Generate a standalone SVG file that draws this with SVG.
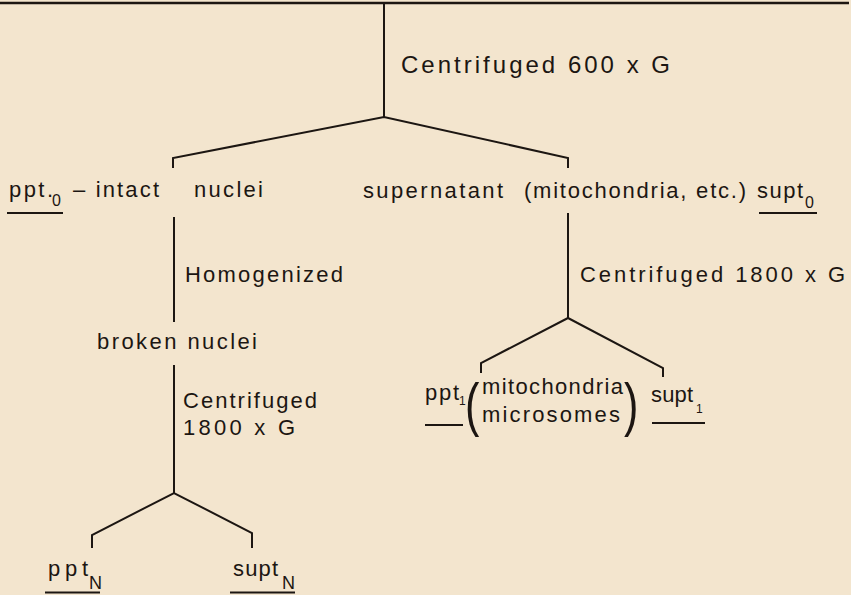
<svg xmlns="http://www.w3.org/2000/svg" width="851" height="595" viewBox="0 0 851 595">
<style>
.t{font-family:"Liberation Sans",Arial,sans-serif;font-size:22px;fill:#1c1612}
.big{font-size:24px}
.sub{font-family:"Liberation Sans",Arial,sans-serif;font-size:16px;fill:#1c1612}
.par{font-family:"Liberation Sans",Arial,sans-serif;font-size:36px;fill:#1c1612}
.ln{fill:none;stroke:#1c1612;stroke-width:2;stroke-linejoin:miter}
.ul{stroke:#1c1612;stroke-width:2}
</style>
<rect width="851" height="595" fill="#F3E5CE"/>
<g id="connectors">
<line x1="0" y1="3" x2="849" y2="3" stroke="#1c1612" stroke-width="2.6"/>
<path class="ln" d="M384 3V117"/>
<path class="ln" d="M173 168V158L384 117L568 158V168"/>
<path class="ln" d="M174 217V322"/>
<path class="ln" d="M174 365V493"/>
<path class="ln" d="M92 548V535L174 493L252 533V548"/>
<path class="ln" d="M568 213V318"/>
<path class="ln" d="M481 373V363L568 318L663 368V377"/>
</g>
<g id="label-c600"><text class="t big" x="401" y="73" textLength="269" lengthAdjust="spacing">Centrifuged  600 x G</text></g>
<g id="ppt0">
<text class="t" x="9" y="197" textLength="44" lengthAdjust="spacing">ppt.</text>
<text class="sub" x="52" y="206">0</text>
<line class="ul" x1="7" y1="213" x2="63" y2="213"/>
<text class="t" x="73" y="197" textLength="86" lengthAdjust="spacing">– intact</text>
<text class="t" x="194" y="197" textLength="69" lengthAdjust="spacing">nuclei</text>
</g>
<g id="supt0">
<text class="t" x="363" y="198" textLength="140" lengthAdjust="spacing">supernatant</text>
<text class="t" x="524" y="198" textLength="222" lengthAdjust="spacing">(mitochondria, etc.)</text>
<text class="t" x="757" y="198" textLength="46" lengthAdjust="spacing">supt</text>
<text class="sub" x="805" y="208">0</text>
<line class="ul" x1="759" y1="213" x2="817" y2="213"/>
</g>
<g id="label-homog"><text class="t" x="185" y="282" textLength="158" lengthAdjust="spacing">Homogenized</text></g>
<g id="label-c1800r"><text class="t" x="580" y="282" textLength="265" lengthAdjust="spacing">Centrifuged  1800 x G</text></g>
<g id="broken"><text class="t" x="97" y="349" textLength="160" lengthAdjust="spacing">broken  nuclei</text></g>
<g id="label-c1800l">
<text class="t" x="183" y="408" textLength="134" lengthAdjust="spacing">Centrifuged</text>
<text class="t" x="183" y="435" textLength="112" lengthAdjust="spacing">1800 x G</text>
</g>
<g id="pptN">
<text class="t" x="48" y="576" textLength="40" lengthAdjust="spacing">ppt</text>
<text class="sub" x="89" y="589" style="font-size:18px">N</text>
<line class="ul" x1="45" y1="592.5" x2="100" y2="592.5"/>
</g>
<g id="suptN">
<text class="t" x="233" y="576" textLength="45" lengthAdjust="spacing">supt</text>
<text class="sub" x="282" y="589" style="font-size:18px">N</text>
<line class="ul" x1="230" y1="592.5" x2="295" y2="592.5"/>
</g>
<g id="ppt1">
<text class="t" x="425" y="400" textLength="34" lengthAdjust="spacing">ppt</text>
<text class="sub" x="459" y="405" style="font-size:12px">1</text>
<line class="ul" x1="425" y1="425" x2="463" y2="425"/>
<text class="par" transform="translate(465 424.5) scale(1.2 1.65)">(</text>
<text class="t" x="482" y="394" textLength="141" lengthAdjust="spacing">mitochondria</text>
<text class="t" x="482" y="422" textLength="138" lengthAdjust="spacing">microsomes</text>
<text class="par" transform="translate(624 424.5) scale(1.2 1.65)">)</text>
</g>
<g id="supt1">
<text class="t" x="651" y="402" textLength="42" lengthAdjust="spacing">supt</text>
<text class="sub" x="696" y="413" style="font-size:12px">1</text>
<line class="ul" x1="652" y1="423" x2="705" y2="423"/>
</g>
</svg>
